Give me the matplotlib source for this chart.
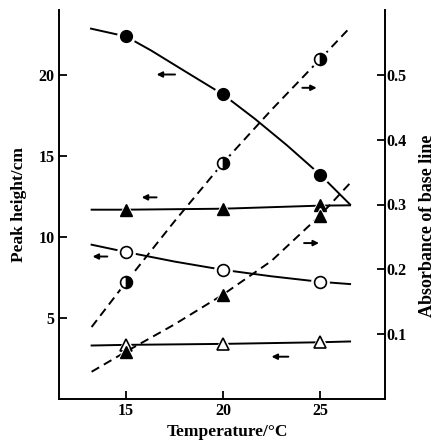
import matplotlib
matplotlib.use("Agg")
import matplotlib.pyplot as plt

plt.rcParams['font.family'] = ['Liberation Serif', 'DejaVu Serif']
plt.rcParams['font.weight'] = 'bold'
plt.rcParams['axes.labelweight'] = 'bold'

# ---- data ----
temps = [15, 20, 25]
# left axis: peak height / cm
peak_filled_circle = [22.37, 18.79, 13.85]
peak_filled_triangle = [11.68, 11.74, 11.97]
peak_open_circle = [9.07, 7.97, 7.23]
peak_open_triangle = [3.34, 3.40, 3.50]
# right axis: absorbance of base line
abs_half_circle = [0.180, 0.364, 0.524]
abs_filled_triangle = [0.073, 0.161, 0.283]

# drawn curves
fc_curve_x = [13.2, 15, 16.3, 18.0, 20, 21.65, 23.3, 25, 26.55]
fc_curve_y = [22.85, 22.37, 21.5, 20.25, 18.79, 17.28, 15.65, 13.85, 12.0]
ft_line_x = [13.23, 15, 20, 25, 26.55]
ft_line_y = [11.68, 11.68, 11.74, 11.93, 11.95]
oc_line_x = [13.23, 15, 17.5, 20, 22.5, 25, 26.55]
oc_line_y = [9.52, 9.07, 8.48, 7.97, 7.57, 7.23, 7.09]
ot_line_x = [13.23, 15, 20, 25, 26.55]
ot_line_y = [3.30, 3.34, 3.40, 3.50, 3.55]
hc_curve_x = [13.23, 15, 17.5, 20, 22.5, 25, 26.55]
hc_curve_y = [0.111, 0.180, 0.274, 0.364, 0.446, 0.524, 0.573]
ftd_curve_x = [13.23, 15, 17.5, 20, 22.5, 25, 26.55]
ftd_curve_y = [0.042, 0.073, 0.115, 0.161, 0.213, 0.283, 0.333]

# arrows: (tail x, head x, y) in left-axis units
arrows = [(17.53, 16.58, 20.02), (24.09, 24.83, 19.2), (16.58, 15.81, 12.44),
          (14.04, 13.28, 8.79), (24.18, 24.95, 9.62), (23.37, 22.5, 2.61)]

x_ticks = [15, 20, 25]
left_ticks = [5, 10, 15, 20]
right_ticks = [0.1, 0.2, 0.3, 0.4, 0.5]
right_ticklabels = ['0.1', '0.2', '0.3', '0.4', '0.5']

# ---- figure ----
fig = plt.figure(figsize=(4.38, 4.41), dpi=100)
ax = fig.add_axes([59 / 438, 42 / 441, 326 / 438, 389 / 441])
ax.set_xlim(11.55, 28.35)
ax.set_ylim(0, 24)
ax2 = ax.twinx()
ax2.set_ylim(0, 0.6)

LW = 1.4
DASH = (4.5, 2.8)


def markers(a, x, y, marker, ms, **kw):
    a.plot(x, y, ls='none', marker=marker, ms=ms + 4, mfc='white', mec='white', zorder=4)
    a.plot(x, y, ls='none', marker=marker, ms=ms, zorder=5, **kw)


ax.plot(fc_curve_x, fc_curve_y, color='black', lw=LW, zorder=2)
ax.plot(ft_line_x, ft_line_y, color='black', lw=LW, zorder=2)
ax.plot(oc_line_x, oc_line_y, color='black', lw=LW, zorder=2)
ax.plot(ot_line_x, ot_line_y, color='black', lw=LW, zorder=2)
markers(ax, temps, peak_filled_circle, 'o', 8.5, mfc='black', mec='black')
markers(ax, temps, peak_filled_triangle, '^', 8, mfc='black', mec='black')
markers(ax, temps, peak_open_circle, 'o', 8.5, mfc='white', mec='black', mew=1.2)
markers(ax, temps, peak_open_triangle, '^', 8.5, mfc='white', mec='black', mew=1.2)

ax2.plot(hc_curve_x, hc_curve_y, color='black', lw=LW, dashes=DASH, zorder=2)
ax2.plot(ftd_curve_x, ftd_curve_y, color='black', lw=LW, dashes=DASH, zorder=2)
markers(ax2, temps, abs_half_circle, 'o', 8.5, mfc='black', mec='black',
        fillstyle='right', markerfacecoloralt='white', mew=1.2)
markers(ax2, temps, abs_filled_triangle, '^', 8, mfc='black', mec='black')

for tx, hx, y in arrows:
    ax.annotate('', xy=(hx, y), xytext=(tx, y),
                arrowprops=dict(arrowstyle='-|>', color='black', lw=1.4,
                                mutation_scale=8, shrinkA=0, shrinkB=0))

# spines
for s in ['top', 'right']:
    ax.spines[s].set_visible(False)
for s in ['top', 'left', 'bottom']:
    ax2.spines[s].set_visible(False)
for s in ['left', 'bottom']:
    ax.spines[s].set_linewidth(1.4)
ax2.spines['right'].set_linewidth(1.4)

ax.set_xticks(x_ticks)
ax.set_yticks(left_ticks)
ax2.set_yticks(right_ticks)
ax2.set_yticklabels(right_ticklabels)
ax.tick_params(direction='in', length=5.5, width=1.3, labelsize=11.5, pad=3)
ax2.tick_params(direction='in', length=5.5, width=1.3, labelsize=11.5, pad=1)

ax.set_ylabel('Peak height/cm', fontsize=12.5)
ax.yaxis.set_label_coords(-0.098, 0.5)
ax.set_xlabel('Temperature/°C', fontsize=12.5)
ax.xaxis.set_label_coords(0.518, -0.065)
ax2.set_ylabel('Absorbance of base line', fontsize=13)
ax2.yaxis.set_label_coords(1.105, 0.445)

fig.savefig('out.png', dpi=100)
